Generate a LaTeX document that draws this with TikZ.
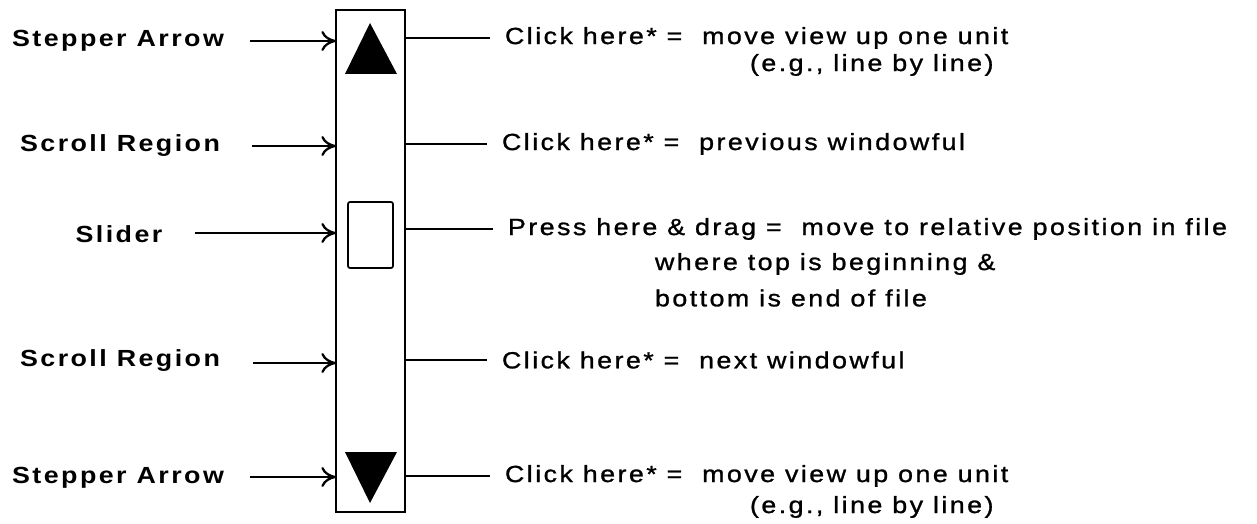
\documentclass[tikz,border=0pt]{standalone}
\usepackage{fontspec}
\setmainfont{Liberation Sans}[FakeStretch=1.15,LetterSpace=10.5,
  UprightFeatures={FakeBold=1.1}]
\usetikzlibrary{arrows.meta}
\begin{document}
\begin{tikzpicture}[x=0.75pt,y=-0.75pt,
  every node/.style={inner sep=0pt,outer sep=0pt,font=\fontsize{17.5pt}{21pt}\selectfont},
  lbl/.style={font=\fontsize{17.5pt}{21pt}\selectfont\bfseries},
  desc/.style={anchor=west},
  pointer/.style={line width=1.7pt,-{Computer Modern Rightarrow[length=11pt,width=15pt]}},
  lead/.style={line width=1.7pt},
  frame/.style={draw,line width=1.6pt}]
\useasboundingbox (0,0) rectangle (1257,524);

% scroll bar frame
\node[frame,minimum width=51.75pt,minimum height=376.5pt] (bar) at (370.5,261) {};

% stepper arrows
\fill (345,74) -- (397,74) -- (370,23) -- cycle;
\fill (345,452) -- (397,452) -- (370,503) -- cycle;

% slider
\node[frame,line width=1.3pt,rounded corners=1.5pt,minimum width=33.75pt,minimum height=49.5pt] (slider) at (370.5,235) {};

% part names on the left
\node[lbl] (l1) at (118,41) {Stepper Arrow};
\node[lbl] (l2) at (120,146) {Scroll Region};
\node[lbl] (l3) at (119,234) {Slider};
\node[lbl] (l4) at (120,361) {Scroll Region};
\node[lbl] (l5) at (118,478) {Stepper Arrow};

\coordinate (t1) at (250,41);
\coordinate (t2) at (252,146);
\coordinate (t3) at (195,233);
\coordinate (t4) at (253,363);
\coordinate (t5) at (250,477);
\foreach \i in {1,...,5}
  \draw[pointer] (t\i) -- (bar.west |- t\i);

% actions on the right
\node[desc] (r1) at (505,38) {Click here* =\ \ move view up one unit};
\node[desc] (r1b) at (750,65) {(e.g., line by line)};
\node[desc] (r2) at (502,144) {Click here* =\ \ previous windowful};
\node[desc] (r3) at (508,229) {Press here \& drag =\ \ move to relative position in file};
\node[desc] (r3b) at (655,264) {where top is beginning \&};
\node[desc] (r3c) at (655,298) {bottom is end of file};
\node[desc] (r4) at (502,360) {Click here* =\ \ next windowful};
\node[desc] (r5) at (505,476) {Click here* =\ \ move view up one unit};
\node[desc] (r5b) at (750,507) {(e.g., line by line)};

\foreach \r in {r1,r2,r3,r4,r5}
  \draw[lead] (bar.east |- \r.west) -- ([xshift=-11pt]\r.west);
\end{tikzpicture}
\end{document}
